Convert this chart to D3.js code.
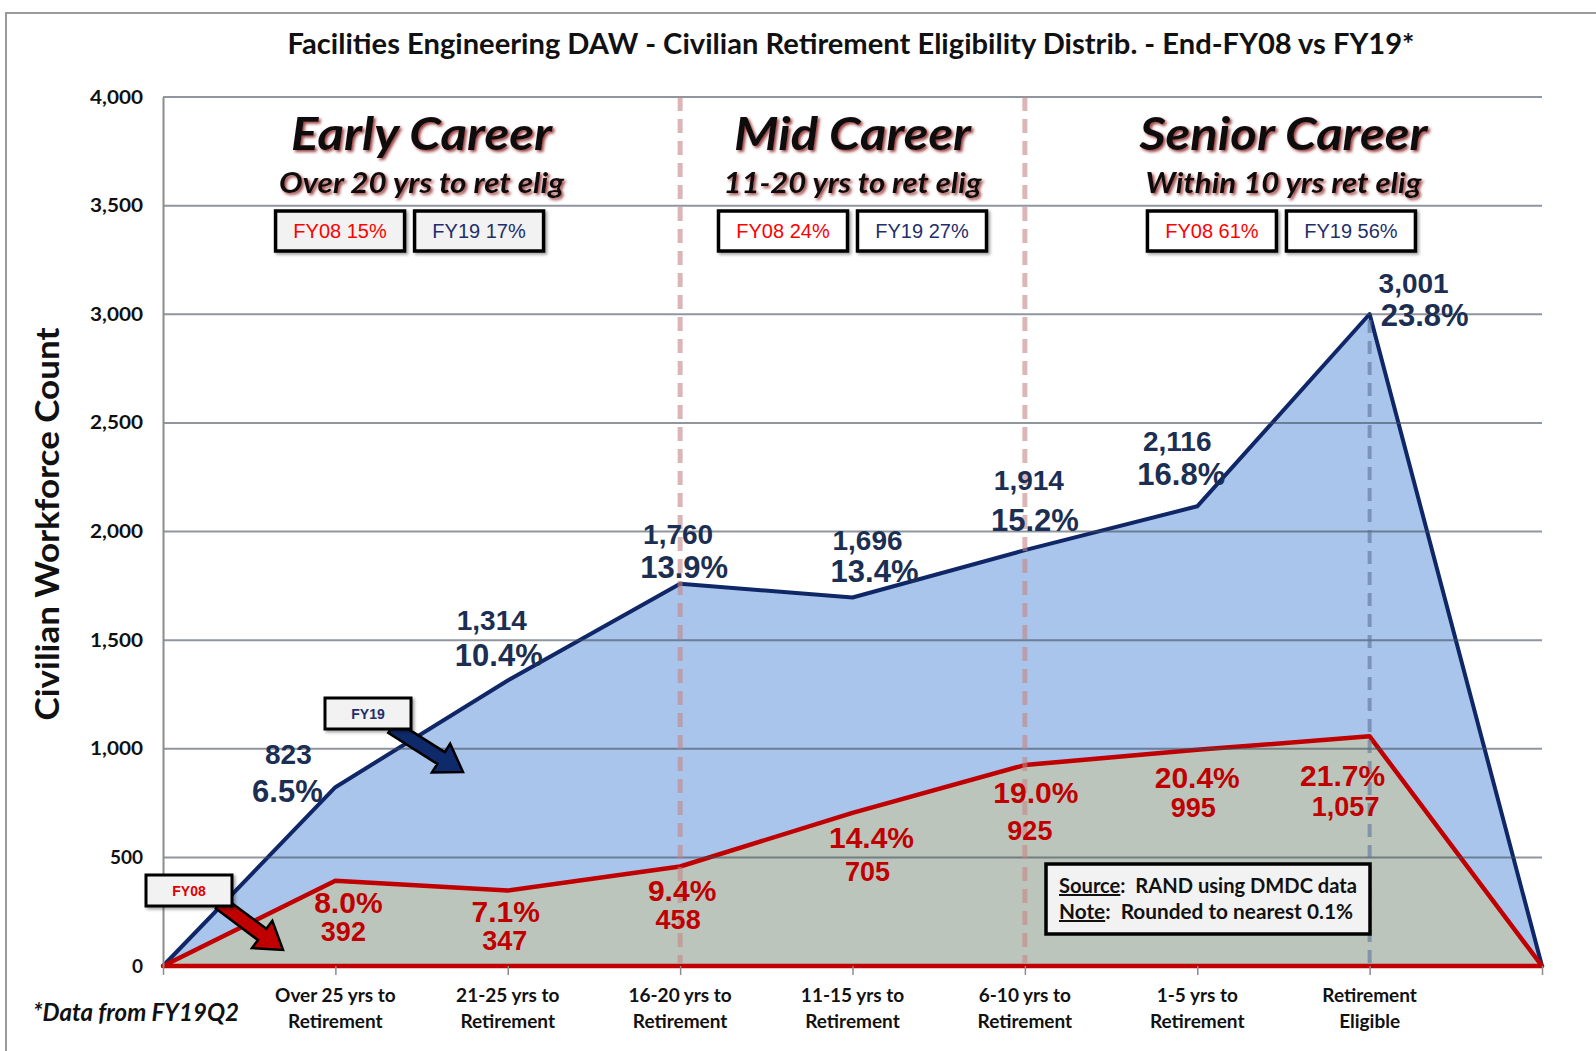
<!DOCTYPE html>
<html>
<head>
<meta charset="utf-8">
<script src="https://cdn.jsdelivr.net/npm/d3@7"></script>
<style>
  body { margin: 0; background: #fff; }
  svg { display: block; }
</style>
</head>
<body>
<svg id="canvas"></svg>
<script>
// categories (first and last are the blank zero anchors of the area chart)
let categories = ['', 'Over 25 yrs to|Retirement', '21-25 yrs to|Retirement', '16-20 yrs to|Retirement',
  '11-15 yrs to|Retirement', '6-10 yrs to|Retirement', '1-5 yrs to|Retirement', 'Retirement|Eligible', '']
let fy19 = [0, 823, 1314, 1760, 1696, 1914, 2116, 3001, 0]
let fy08 = [0, 392, 347, 458, 705, 925, 995, 1057, 0]
let fy19Pct = ['', '6.5%', '10.4%', '13.9%', '13.4%', '15.2%', '16.8%', '23.8%', '']
let fy08Pct = ['', '8.0%', '7.1%', '9.4%', '14.4%', '19.0%', '20.4%', '21.7%', '']
let yTicks = [0, 500, 1000, 1500, 2000, 2500, 3000, 3500, 4000]

let careers = ['Early Career', 'Mid Career', 'Senior Career']
let careerSubs = ['Over 20 yrs to ret elig', '11-20 yrs to ret elig', 'Within 10 yrs ret elig']
let careerBounds = [[0, 3], [3, 5], [5, 8]]
let fy08Share = ['FY08 15%', 'FY08 24%', 'FY08 61%']
let fy19Share = ['FY19 17%', 'FY19 27%', 'FY19 56%']

let width = 1596
let height = 1051

// label offsets from each data point: [dx, dy] for count and percent
let fy19CountOff = [null, [-47, -33], [-16, -61], [-2, -50], [15, -58], [4, -70], [-20, -65], [44, -31], null]
let fy19PctOff = [null, [-48, 4], [-9, -26], [4, -17], [22, -27], [10, -30], [-16, -32], [55, 1], null]
let fy08PctOff = [null, [13, 21], [-2, 21], [2, 24], [19, 24], [11, 27], [0, 27], [-27, 39], null]
let fy08CountOff = [null, [8, 50], [-3, 50], [-2, 53], [15, 58], [5, 65], [-4, 57], [-24, 70], null]

let navy = '#0f2767'
let navyText = '#1c2f52'
let red = '#c00000'

let canvas = d3.select('#canvas')
canvas.attr('width', width).attr('height', height)

let defs = canvas.append('defs')
let glow = defs.append('filter').attr('id', 'glow').attr('x', '-10%').attr('y', '-20%').attr('width', '120%').attr('height', '150%')
glow.append('feDropShadow').attr('dx', 2).attr('dy', 2).attr('stdDeviation', 1.6)
  .attr('flood-color', '#8a1a1a').attr('flood-opacity', 0.85)
let boxShadow = defs.append('filter').attr('id', 'boxShadow').attr('x', '-10%').attr('y', '-20%').attr('width', '130%').attr('height', '160%')
boxShadow.append('feDropShadow').attr('dx', 2).attr('dy', 2).attr('stdDeviation', 1.5)
  .attr('flood-color', '#000').attr('flood-opacity', 0.35)

let keys = categories.map((c, i) => i)
let xScale = d3.scalePoint().domain(keys).range([163, 1542]).padding(0)
let yScale = d3.scaleLinear().domain([0, 4000]).range([966, 97])

// outer frame
canvas.append('path')
  .attr('d', 'M6,1051 L6,13 L1596,13')
  .attr('fill', 'none').attr('stroke', '#9a9a9a').attr('stroke-width', 2)

// title
canvas.append('text')
  .attr('x', 851).attr('y', 54)
  .attr('text-anchor', 'middle')
  .attr('font-family', 'Lato, "Open Sans", sans-serif')
  .attr('font-weight', 700).attr('font-size', 28)
  .attr('textLength', 1127).attr('lengthAdjust', 'spacingAndGlyphs')
  .attr('fill', '#111')
  .text('Facilities Engineering DAW - Civilian Retirement Eligibility Distrib. - End-FY08 vs FY19*')

// areas
let area = d3.area()
  .x((d, i) => xScale(i))
  .y0(yScale(0))
  .y1(d => yScale(d))

canvas.append('path')
  .datum(fy19)
  .attr('d', d => area(d) + 'Z')
  .attr('fill', '#a9c5eb')
  .attr('stroke', navy).attr('stroke-width', 4).attr('stroke-linejoin', 'round')

canvas.append('path')
  .datum(fy08)
  .attr('d', d => area(d) + 'Z')
  .attr('fill', '#bbc5bb')
  .attr('stroke', red).attr('stroke-width', 4.5).attr('stroke-linejoin', 'round')

// gridlines over the areas
canvas.append('g')
  .selectAll('line')
  .data(yTicks.filter(t => t > 0))
  .enter()
  .append('line')
  .attr('x1', 163).attr('x2', 1542)
  .attr('y1', d => yScale(d)).attr('y2', d => yScale(d))
  .attr('stroke', '#3e4a5a').attr('stroke-opacity', 0.58).attr('stroke-width', 2)

// y axis
let yAxis = d3.axisLeft(yScale)
  .tickValues(yTicks)
  .tickSize(0)
  .tickPadding(20)
  .tickFormat(d3.format(','))
let yg = canvas.append('g')
  .attr('transform', 'translate(163,0)')
  .call(yAxis)
yg.select('.domain').attr('stroke', '#8c8c8c').attr('stroke-width', 2)
yg.selectAll('text')
  .attr('font-family', 'Lato, sans-serif').attr('font-weight', 700).attr('font-size', 19).attr('fill', '#111')
  .attr('textLength', d => d >= 1000 ? 53 : null).attr('lengthAdjust', 'spacingAndGlyphs')

// x axis
let xAxis = d3.axisBottom(xScale)
  .tickSize(9)
  .tickFormat('')
let xg = canvas.append('g')
  .attr('transform', 'translate(0,' + yScale(0) + ')')
  .call(xAxis)
xg.select('.domain').remove()
xg.selectAll('line').attr('stroke', '#8c8c8c').attr('stroke-width', 1.5)

canvas.append('g')
  .selectAll('text')
  .data(categories)
  .enter()
  .append('text')
  .attr('x', (d, i) => xScale(i))
  .attr('y', 1002)
  .attr('text-anchor', 'middle')
  .attr('font-family', 'Lato, sans-serif').attr('font-weight', 700).attr('font-size', 19)
  .attr('fill', '#111')
  .each(function (d) {
    let lines = d.split('|')
    let t = d3.select(this)
    lines.forEach((l, k) => {
      t.append('tspan').attr('x', t.attr('x')).attr('dy', k === 0 ? 0 : 26).text(l)
    })
  })

// y axis title
canvas.append('text')
  .attr('transform', 'translate(59,524) rotate(-90)')
  .attr('text-anchor', 'middle')
  .attr('font-family', 'Lato, sans-serif').attr('font-weight', 700).attr('font-size', 33)
  .attr('textLength', 393).attr('lengthAdjust', 'spacingAndGlyphs')
  .attr('fill', '#111')
  .text('Civilian Workforce Count')

// section dividers
canvas.append('g')
  .selectAll('line')
  .data([3, 5])
  .enter()
  .append('line')
  .attr('x1', d => xScale(d)).attr('x2', d => xScale(d))
  .attr('y1', yScale(4000)).attr('y2', yScale(0) - 3)
  .attr('stroke', '#c48585').attr('stroke-opacity', 0.6).attr('stroke-width', 5)
  .attr('stroke-dasharray', '14,8')

canvas.append('line')
  .attr('x1', xScale(7)).attr('x2', xScale(7))
  .attr('y1', yScale(fy19[7]) + 6).attr('y2', yScale(0) - 3)
  .attr('stroke', '#5c7398').attr('stroke-opacity', 0.6).attr('stroke-width', 4)
  .attr('stroke-dasharray', '13,8')

// career headers
let mid = b => (xScale(b[0]) + xScale(b[1])) / 2
let headerLen = [261, 237, 288]
let subLen = [285, 258, 276]
canvas.append('g')
  .selectAll('text')
  .data(careers)
  .enter()
  .append('text')
  .attr('x', (d, i) => mid(careerBounds[i]))
  .attr('y', 150)
  .attr('text-anchor', 'middle')
  .attr('font-family', 'Lato, sans-serif').attr('font-style', 'italic').attr('font-weight', 700)
  .attr('font-size', 46)
  .attr('textLength', (d, i) => headerLen[i]).attr('lengthAdjust', 'spacingAndGlyphs')
  .attr('fill', '#111').attr('filter', 'url(#glow)')
  .text(d => d)

canvas.append('g')
  .selectAll('text')
  .data(careerSubs)
  .enter()
  .append('text')
  .attr('x', (d, i) => mid(careerBounds[i]))
  .attr('y', 193)
  .attr('text-anchor', 'middle')
  .attr('font-family', 'Lato, sans-serif').attr('font-style', 'italic').attr('font-weight', 700)
  .attr('font-size', 29)
  .attr('textLength', (d, i) => subLen[i]).attr('lengthAdjust', 'spacingAndGlyphs')
  .attr('fill', '#111').attr('filter', 'url(#glow)')
  .text(d => d)

// share boxes
let boxShift = [-12, 0, -2]
let boxFill = ['#f2f2f2', '#ffffff', '#ffffff']
let drawShareBox = (labels, color, side) => {
  let g = canvas.append('g')
    .selectAll('g')
    .data(labels)
    .enter()
    .append('g')
    .attr('transform', (d, i) => {
      let cx = mid(careerBounds[i]) + boxShift[i]
      let bx = side === 0 ? cx - 134 : cx + 5
      return 'translate(' + bx + ',211)'
    })
  g.append('rect')
    .attr('width', 129).attr('height', 40)
    .attr('fill', (d, i) => boxFill[i])
    .attr('stroke', '#000').attr('stroke-width', 3.5)
    .attr('filter', 'url(#boxShadow)')
  g.append('text')
    .attr('x', 64.5).attr('y', 27)
    .attr('text-anchor', 'middle')
    .attr('font-family', 'Liberation Sans, Arial, sans-serif').attr('font-size', 20)
    .attr('fill', color)
    .text(d => d)
}
drawShareBox(fy08Share, '#ff0000', 0)
drawShareBox(fy19Share, '#1f2f6b', 1)

// data labels
let drawLabels = (values, texts, offs, color, size) => {
  canvas.append('g')
    .selectAll('text')
    .data(values.map((v, i) => ({ v: v, i: i, t: texts[i], o: offs[i] })).filter(d => d.o))
    .enter()
    .append('text')
    .attr('x', d => xScale(d.i) + d.o[0])
    .attr('y', d => yScale(d.v) + d.o[1])
    .attr('dy', '0.36em')
    .attr('text-anchor', 'middle')
    .attr('font-family', 'Liberation Sans, Arial, sans-serif').attr('font-weight', 700)
    .attr('font-size', size)
    .attr('fill', color)
    .text(d => d.t)
}
drawLabels(fy19, fy19.map(v => d3.format(',')(v)), fy19CountOff, navyText, 28)
drawLabels(fy19, fy19Pct, fy19PctOff, navyText, 31)
drawLabels(fy08, fy08Pct, fy08PctOff, red, 30)
drawLabels(fy08, fy08.map(v => d3.format(',')(v)), fy08CountOff, red, 27)

// callout arrows
let blockArrow = (x1, y1, x2, y2, fill) => {
  let L = Math.hypot(x2 - x1, y2 - y1)
  let a = Math.atan2(y2 - y1, x2 - x1) * 180 / Math.PI
  let h = 26, sw = 7, hw = 17
  let pts = [[0, -sw], [L - h, -sw], [L - h, -hw], [L, 0], [L - h, hw], [L - h, sw], [0, sw]]
  canvas.append('polygon')
    .attr('points', pts.map(p => p.join(',')).join(' '))
    .attr('transform', 'translate(' + x1 + ',' + y1 + ') rotate(' + a + ')')
    .attr('fill', fill).attr('stroke', '#000').attr('stroke-width', 2.5).attr('stroke-linejoin', 'miter')
}
blockArrow(392, 727, 463, 772, '#0f2a6b')
blockArrow(220, 903, 283, 950, '#c00000')

let callout = (x, y, label, color) => {
  let g = canvas.append('g').attr('transform', 'translate(' + x + ',' + y + ')')
  g.append('rect').attr('width', 86).attr('height', 31)
    .attr('fill', '#f2f2f2').attr('stroke', '#000').attr('stroke-width', 3)
    .attr('filter', 'url(#boxShadow)')
  g.append('text').attr('x', 43).attr('y', 21)
    .attr('text-anchor', 'middle')
    .attr('font-family', 'Liberation Sans, Arial, sans-serif').attr('font-weight', 700).attr('font-size', 14)
    .attr('fill', color)
    .text(label)
}
callout(325, 698, 'FY19', '#1f2f6b')
callout(146, 875, 'FY08', '#e00000')

// source note
let note = canvas.append('g').attr('transform', 'translate(1046,864)')
note.append('rect').attr('width', 324).attr('height', 70)
  .attr('fill', '#f2f2f2').attr('stroke', '#000').attr('stroke-width', 3.5)
let noteLines = [['Source', ':  RAND using DMDC data', 298], ['Note', ':  Rounded to nearest 0.1%', 294]]
noteLines.forEach((l, k) => {
  let t = note.append('text')
    .attr('x', 13).attr('y', 29 + k * 26)
    .attr('font-family', 'Lato, sans-serif').attr('font-weight', 700).attr('font-size', 20)
    .attr('textLength', l[2]).attr('lengthAdjust', 'spacingAndGlyphs')
    .attr('fill', '#111')
  t.append('tspan').attr('text-decoration', 'underline').text(l[0])
  t.append('tspan').text(l[1].replace('  ', '\u00a0 '))
})

// footnote
canvas.append('text')
  .attr('x', 33).attr('y', 1021)
  .attr('font-family', 'Lato, sans-serif').attr('font-style', 'italic').attr('font-weight', 700)
  .attr('font-size', 24)
  .attr('textLength', 206).attr('lengthAdjust', 'spacingAndGlyphs')
  .attr('fill', '#111')
  .text('*Data from FY19Q2')
</script>
</body>
</html>
